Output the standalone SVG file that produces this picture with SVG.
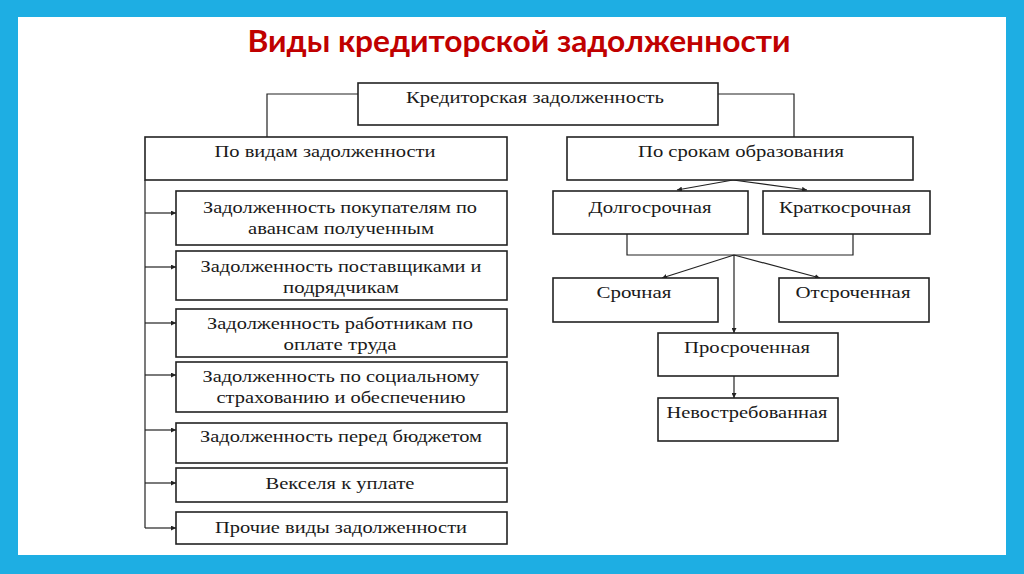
<svg xmlns="http://www.w3.org/2000/svg" width="1024" height="574" viewBox="0 0 1024 574">
<style>
.box{fill:#fff;stroke:#222;stroke-width:1.6}
.ln{fill:none;stroke:#222;stroke-width:1.2}
.t{font-family:"Liberation Serif","Times New Roman",serif;font-size:17px;fill:#1a1a1a;text-anchor:middle}
.title{font-family:Lato,"Open Sans","Liberation Sans",sans-serif;font-size:31px;font-weight:bold;fill:#c00000;text-anchor:middle}
</style>
<defs>
<marker id="ah" viewBox="0 0 10 10" refX="10" refY="5" markerWidth="5" markerHeight="5" orient="auto" markerUnits="userSpaceOnUse">
<path d="M0,0 L10,5 L0,10 z" fill="#222"/>
</marker>
</defs>
<rect x="0" y="0" width="1024" height="574" fill="#1eaee3"/>
<rect x="18" y="17" width="988" height="538" fill="#fff"/>
<text class="title" x="519" y="52" textLength="543" lengthAdjust="spacingAndGlyphs">Виды кредиторской задолженности</text>

<g id="connectors">
<polyline class="ln" points="358,94 267,94 267,137"/>
<polyline class="ln" points="718,94 794,94 794,137"/>
<line class="ln" x1="145" y1="180" x2="145" y2="528"/>
<line class="ln" x1="145" y1="213" x2="176" y2="213" marker-end="url(#ah)"/>
<line class="ln" x1="145" y1="267" x2="176" y2="267" marker-end="url(#ah)"/>
<line class="ln" x1="145" y1="323" x2="176" y2="323" marker-end="url(#ah)"/>
<line class="ln" x1="145" y1="375" x2="176" y2="375" marker-end="url(#ah)"/>
<line class="ln" x1="145" y1="430" x2="176" y2="430" marker-end="url(#ah)"/>
<line class="ln" x1="145" y1="483" x2="176" y2="483" marker-end="url(#ah)"/>
<line class="ln" x1="145" y1="528" x2="176" y2="528" marker-end="url(#ah)"/>
<line class="ln" x1="733" y1="180" x2="677" y2="190" marker-end="url(#ah)"/>
<line class="ln" x1="733" y1="180" x2="807" y2="190" marker-end="url(#ah)"/>
<polyline class="ln" points="627,234 627,255 853,255 853,234"/>
<line class="ln" x1="734" y1="255" x2="662" y2="278" marker-end="url(#ah)"/>
<line class="ln" x1="734" y1="255" x2="820" y2="278" marker-end="url(#ah)"/>
<line class="ln" x1="734" y1="255" x2="734" y2="333" marker-end="url(#ah)"/>
<line class="ln" x1="734" y1="376" x2="734" y2="398" marker-end="url(#ah)"/>
</g>

<g id="root"><rect class="box" x="358" y="83" width="360" height="42"/><text class="t" x="535" y="103" textLength="258" lengthAdjust="spacingAndGlyphs">Кредиторская задолженность</text></g>
<g id="by-type"><rect class="box" x="145" y="137" width="362" height="43"/><text class="t" x="325" y="157" textLength="221" lengthAdjust="spacingAndGlyphs">По видам задолженности</text></g>
<g id="by-term"><rect class="box" x="567" y="137" width="346" height="43"/><text class="t" x="741" y="157" textLength="206" lengthAdjust="spacingAndGlyphs">По срокам образования</text></g>

<g id="l1"><rect class="box" x="176" y="191" width="331" height="54"/><text class="t" x="340" y="213" textLength="274" lengthAdjust="spacingAndGlyphs">Задолженность покупателям по</text><text class="t" x="341" y="234" textLength="186" lengthAdjust="spacingAndGlyphs">авансам полученным</text></g>
<g id="l2"><rect class="box" x="176" y="251" width="331" height="49"/><text class="t" x="341" y="272" textLength="281" lengthAdjust="spacingAndGlyphs">Задолженность поставщиками и</text><text class="t" x="341" y="293" textLength="116" lengthAdjust="spacingAndGlyphs">подрядчикам</text></g>
<g id="l3"><rect class="box" x="176" y="309" width="331" height="48"/><text class="t" x="340" y="329" textLength="266" lengthAdjust="spacingAndGlyphs">Задолженность работникам по</text><text class="t" x="340" y="350" textLength="113" lengthAdjust="spacingAndGlyphs">оплате труда</text></g>
<g id="l4"><rect class="box" x="176" y="362" width="331" height="50"/><text class="t" x="341" y="382" textLength="277" lengthAdjust="spacingAndGlyphs">Задолженность по социальному</text><text class="t" x="341" y="403" textLength="249" lengthAdjust="spacingAndGlyphs">страхованию и обеспечению</text></g>
<g id="l5"><rect class="box" x="176" y="423" width="331" height="40"/><text class="t" x="341" y="442" textLength="282" lengthAdjust="spacingAndGlyphs">Задолженность перед бюджетом</text></g>
<g id="l6"><rect class="box" x="176" y="468" width="331" height="34"/><text class="t" x="340" y="489" textLength="149" lengthAdjust="spacingAndGlyphs">Векселя к уплате</text></g>
<g id="l7"><rect class="box" x="176" y="512" width="331" height="32"/><text class="t" x="341" y="533" textLength="252" lengthAdjust="spacingAndGlyphs">Прочие виды задолженности</text></g>

<g id="long"><rect class="box" x="553" y="191" width="195" height="43"/><text class="t" x="650" y="213" textLength="123" lengthAdjust="spacingAndGlyphs">Долгосрочная</text></g>
<g id="short"><rect class="box" x="763" y="191" width="167" height="43"/><text class="t" x="845" y="213" textLength="132" lengthAdjust="spacingAndGlyphs">Краткосрочная</text></g>
<g id="urgent"><rect class="box" x="553" y="278" width="165" height="44"/><text class="t" x="634" y="298" textLength="75" lengthAdjust="spacingAndGlyphs">Срочная</text></g>
<g id="deferred"><rect class="box" x="779" y="278" width="150" height="44"/><text class="t" x="853" y="298" textLength="115" lengthAdjust="spacingAndGlyphs">Отсроченная</text></g>
<g id="overdue"><rect class="box" x="658" y="333" width="180" height="43"/><text class="t" x="747" y="353" textLength="126" lengthAdjust="spacingAndGlyphs">Просроченная</text></g>
<g id="unclaimed"><rect class="box" x="658" y="398" width="180" height="43"/><text class="t" x="747" y="418" textLength="161" lengthAdjust="spacingAndGlyphs">Невостребованная</text></g>
</svg>
